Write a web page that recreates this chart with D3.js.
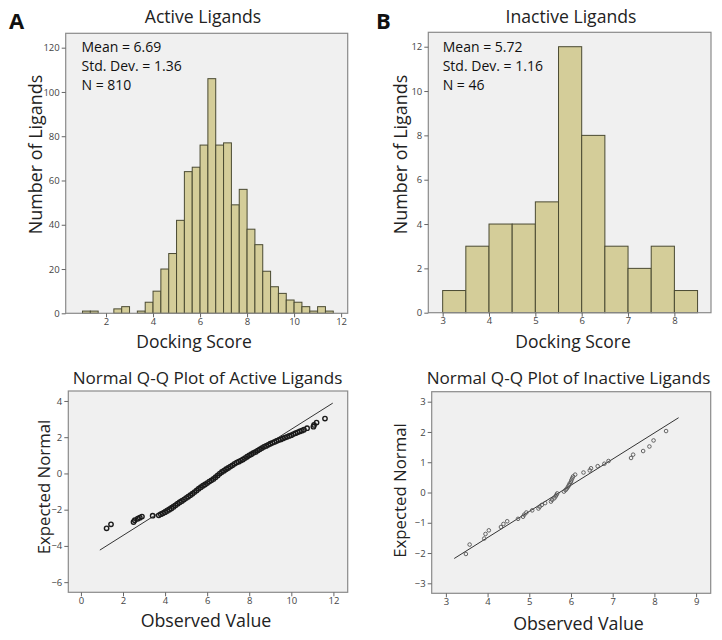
<!DOCTYPE html>
<html>
<head>
<meta charset="utf-8">
<script src="https://cdn.jsdelivr.net/npm/d3@7"></script>
<style>
  html, body { margin: 0; padding: 0; background: #ffffff; }
  svg text { font-family: "Open Sans", Lato, sans-serif; }
</style>
</head>
<body>
<svg id="chart" width="722" height="640"></svg>
<script>
// ---------------- DATA ----------------
// Histogram A: Active ligands (bin width 1/3)
const activeBinLo = [1.0, 1.333, 2.333, 2.667, 3.333, 3.667, 4.0, 4.333, 4.667, 5.0, 5.333, 5.667,
  6.0, 6.333, 6.667, 7.0, 7.333, 7.667, 8.0, 8.333, 8.667, 9.0, 9.333, 9.667, 10.0, 10.333, 10.667, 11.0, 11.333];
const activeCounts = [1, 1, 2, 3, 1, 5, 10, 20, 27, 42, 64, 66,
  76, 106, 76, 77, 49, 56, 38, 31, 19, 12, 9, 6, 5, 3, 1, 3, 1];
const activeBinWidth = 0.3333;
const activeStats = ["Mean = 6.69", "Std. Dev. = 1.36", "N = 810"];
const activeXTicks = [2, 4, 6, 8, 10, 12];
const activeYTicks = [0, 20, 40, 60, 80, 100, 120];

// Histogram B: Inactive ligands (bin width 0.5)
const inactiveBinLo = [3.0, 3.5, 4.0, 4.5, 5.0, 5.5, 6.0, 6.5, 7.0, 7.5, 8.0];
const inactiveCounts = [1, 3, 4, 4, 5, 12, 8, 3, 2, 3, 1];
const inactiveBinWidth = 0.5;
const inactiveStats = ["Mean = 5.72", "Std. Dev. = 1.16", "N = 46"];
const inactiveXTicks = [3, 4, 5, 6, 7, 8];
const inactiveYTicks = [0, 2, 4, 6, 8, 10, 12];

const qqActiveObserved = [1.22, 1.43, 2.50, 2.56, 2.70, 2.80, 2.90, 3.41,
  3.7, 3.8, 3.9, 4.0, 4.1, 4.2, 4.3, 4.4, 4.5, 4.6, 4.7, 4.8, 4.9, 5.0,
  5.1, 5.2, 5.3, 5.4, 5.5, 5.6, 5.7, 5.8, 5.9, 6.0, 6.1, 6.2, 6.3, 6.4,
  6.5, 6.6, 6.7, 6.8, 6.9, 7.0, 7.1, 7.2, 7.3, 7.4, 7.5, 7.6, 7.7, 7.8,
  7.9, 8.0, 8.1, 8.2, 8.3, 8.4, 8.5, 8.6, 8.7, 8.8, 8.9, 9.0, 9.1, 9.2,
  9.3, 9.4, 9.5, 9.6, 9.7, 9.8, 9.9, 10.0, 10.1, 10.2, 10.3, 10.4, 10.5, 10.6,
  10.75, 11.05, 11.08, 11.2, 11.6];
const qqActiveExpected = [-3.03, -2.81, -2.68, -2.58, -2.50, -2.44, -2.38, -2.33,
  -2.31, -2.25, -2.20, -2.14, -2.07, -2.00, -1.93, -1.85, -1.76, -1.67, -1.59, -1.52, -1.44, -1.36,
  -1.28, -1.20, -1.12, -1.03, -0.94, -0.84, -0.76, -0.68, -0.61, -0.53, -0.45, -0.38, -0.30, -0.21,
  -0.11, -0.01, 0.08, 0.15, 0.23, 0.30, 0.38, 0.45, 0.53, 0.60, 0.65, 0.71, 0.77, 0.85,
  0.92, 1.00, 1.06, 1.13, 1.19, 1.26, 1.33, 1.40, 1.47, 1.52, 1.58, 1.64, 1.69, 1.74,
  1.79, 1.84, 1.88, 1.93, 1.98, 2.02, 2.07, 2.11, 2.17, 2.22, 2.27, 2.32, 2.36, 2.41,
  2.50, 2.58, 2.68, 2.81, 3.03];
const qqActiveLineX = [0.9, 11.97];
const qqActiveLineY = [-4.23, 3.88];
const qqActiveXTicks = [0, 2, 4, 6, 8, 10, 12];
const qqActiveYTicks = [-6, -4, -2, 0, 2, 4];

// Q-Q plot B
const qqInactiveObserved = [3.48, 3.57, 3.92, 3.95, 4.03, 4.32, 4.38, 4.47, 4.73, 4.85, 4.88, 4.93,
  5.07, 5.22, 5.25, 5.30, 5.38, 5.52, 5.55, 5.60, 5.63, 5.65, 5.67, 5.83, 5.87, 5.90, 5.93, 5.95,
  5.97, 6.00, 6.01, 6.03, 6.05, 6.10, 6.30, 6.45, 6.48, 6.64, 6.80, 6.90, 7.44, 7.49, 7.73, 7.88,
  7.98, 8.28];
const qqInactiveExpected = [-2.03, -1.72, -1.52, -1.37, -1.25, -1.14, -1.04, -0.95, -0.87, -0.80, -0.73, -0.66,
  -0.59, -0.53, -0.47, -0.41, -0.35, -0.30, -0.24, -0.19, -0.13, -0.08, -0.03, 0.03, 0.08, 0.13, 0.19, 0.24,
  0.30, 0.35, 0.41, 0.47, 0.53, 0.59, 0.66, 0.73, 0.80, 0.87, 0.95, 1.04, 1.14, 1.25, 1.37, 1.52,
  1.72, 2.03];
const qqInactiveLineX = [3.2, 8.58];
const qqInactiveLineY = [-2.18, 2.47];
const qqInactiveXTicks = [3, 4, 5, 6, 7, 8, 9];
const qqInactiveYTicks = [-3, -2, -1, 0, 1, 2, 3];

// ---------------- DRAWING ----------------
const svg = d3.select("#chart");
const BG = "#f0f0f0", FRAME = "#8a8a8a", BAR = "#d4cd99", BAR_STROKE = "#4a4a32";

function frame(box) {
  svg.append("rect")
    .attr("x", box.l).attr("y", box.t)
    .attr("width", box.r - box.l).attr("height", box.b - box.t)
    .attr("fill", BG).attr("stroke", "none");
}
function frameStroke(box) {
  svg.append("rect")
    .attr("x", box.l).attr("y", box.t)
    .attr("width", box.r - box.l).attr("height", box.b - box.t)
    .attr("fill", "none").attr("stroke", FRAME).attr("stroke-width", 1.2);
}
function axes(box, x, y, xt, yt) {
  const ax = svg.append("g").attr("transform", `translate(0,${box.b})`)
    .call(d3.axisBottom(x).tickValues(xt).tickSize(4).tickPadding(1).tickFormat(d3.format("d")));
  const ay = svg.append("g").attr("transform", `translate(${box.l},0)`)
    .call(d3.axisLeft(y).tickValues(yt).tickSize(4).tickPadding(2).tickFormat(d3.format("d")));
  [ax, ay].forEach(g => {
    g.select(".domain").remove();
    g.selectAll(".tick line").attr("stroke", "#666");
    g.selectAll(".tick text").attr("fill", "#444").style("font-size", "9.5px")
      .style("font-family", "'Open Sans', Lato, sans-serif");
  });
}
function labels(o) {
  svg.append("text").attr("x", o.letterX).attr("y", 29).text(o.letter)
    .style("font-size", "22px").style("font-weight", "bold").attr("fill", "#111");
  svg.append("text").attr("x", o.titleX).attr("y", o.titleY).attr("text-anchor", "middle")
    .text(o.title).style("font-size", o.titleSize).attr("fill", "#222");
  svg.append("text").attr("x", o.xlabX).attr("y", o.xlabY).attr("text-anchor", "middle")
    .text(o.xlab).style("font-size", o.xlabSize).attr("fill", "#222");
  svg.append("text").attr("transform", `translate(${o.ylabX},${o.ylabY}) rotate(-90)`)
    .attr("text-anchor", "middle").text(o.ylab).style("font-size", o.ylabSize).attr("fill", "#222");
}

function histogram(cfg) {
  const box = cfg.box;
  const x = d3.scaleLinear().domain(cfg.xDomain).range([box.l, box.r]);
  const y = d3.scaleLinear().domain(cfg.yDomain).range([box.b, box.t]);
  frame(box);
  svg.append("g").selectAll("rect").data(cfg.lo).join("rect")
    .attr("x", d => x(d))
    .attr("width", d => x(d + cfg.width) - x(d))
    .attr("y", (d, i) => y(cfg.counts[i]))
    .attr("height", (d, i) => y(0) - y(cfg.counts[i]))
    .attr("fill", BAR).attr("stroke", BAR_STROKE).attr("stroke-width", 1);
  frameStroke(box);
  axes(box, x, y, cfg.xTicks, cfg.yTicks);
  svg.append("g").selectAll("text").data(cfg.stats).join("text")
    .attr("x", cfg.statX).attr("y", (d, i) => cfg.statY + i * 19.3)
    .text(d => d).style("font-size", "14px").attr("fill", "#111");
}

function qq(cfg) {
  const box = cfg.box;
  const x = d3.scaleLinear().domain(cfg.xDomain).range([box.l, box.r]);
  const y = d3.scaleLinear().domain(cfg.yDomain).range([box.b, box.t]);
  frame(box);
  svg.append("line")
    .attr("x1", x(cfg.lineX[0])).attr("y1", y(cfg.lineY[0]))
    .attr("x2", x(cfg.lineX[1])).attr("y2", y(cfg.lineY[1]))
    .attr("stroke", "#333").attr("stroke-width", 1);
  svg.append("g").selectAll("circle").data(cfg.obs).join("circle")
    .attr("cx", d => x(d)).attr("cy", (d, i) => y(cfg.exp[i]))
    .attr("r", cfg.r).attr("fill", "none").attr("stroke", cfg.pointColor).attr("stroke-width", cfg.sw);
  frameStroke(box);
  axes(box, x, y, cfg.xTicks, cfg.yTicks);
}

// Panel A histogram
histogram({
  box: {l: 65.7, r: 347.7, t: 33.3, b: 313.3},
  xDomain: [0.285, 12.28], yDomain: [0, 126.5],
  lo: activeBinLo, counts: activeCounts, width: activeBinWidth,
  xTicks: activeXTicks, yTicks: activeYTicks,
  stats: activeStats, statX: 81.5, statY: 51.5
});
labels({letter: "A", letterX: 9, title: "Active Ligands", titleX: 203, titleY: 23, titleSize: "17.6px",
  xlab: "Docking Score", xlabX: 194, xlabY: 348, xlabSize: "17.5px",
  ylab: "Number of Ligands", ylabX: 42, ylabY: 154.5, ylabSize: "17.9px"});

// Panel B histogram
histogram({
  box: {l: 428.3, r: 711, t: 32.3, b: 312.7},
  xDomain: [2.69, 8.79], yDomain: [0, 12.65],
  lo: inactiveBinLo, counts: inactiveCounts, width: inactiveBinWidth,
  xTicks: inactiveXTicks, yTicks: inactiveYTicks,
  stats: inactiveStats, statX: 442.7, statY: 51.5
});
labels({letter: "B", letterX: 376, title: "Inactive Ligands", titleX: 571, titleY: 23, titleSize: "17.6px",
  xlab: "Docking Score", xlabX: 573, xlabY: 348, xlabSize: "17.5px",
  ylab: "Number of Ligands", ylabX: 406.5, ylabY: 154.5, ylabSize: "17.9px"});

// Q-Q A
qq({
  box: {l: 68.3, r: 347.7, t: 391, b: 592.3},
  xDomain: [-0.6, 12.68], yDomain: [-6.56, 4.55],
  obs: qqActiveObserved, exp: qqActiveExpected, lineX: qqActiveLineX, lineY: qqActiveLineY,
  xTicks: qqActiveXTicks, yTicks: qqActiveYTicks, r: 2.2, sw: 1.4, pointColor: "#1a1a1a"
});
svg.append("text").attr("x", 207.5).attr("y", 384).attr("text-anchor", "middle")
  .text("Normal Q-Q Plot of Active Ligands").style("font-size", "17.1px").attr("fill", "#222");
svg.append("text").attr("x", 206).attr("y", 627).attr("text-anchor", "middle")
  .text("Observed Value").style("font-size", "17.8px").attr("fill", "#222");
svg.append("text").attr("transform", "translate(50,487) rotate(-90)").attr("text-anchor", "middle")
  .text("Expected Normal").style("font-size", "16.8px").attr("fill", "#222");

// Q-Q B
qq({
  box: {l: 431.7, r: 710.7, t: 391.7, b: 593.3},
  xDomain: [2.66, 9.35], yDomain: [-3.33, 3.33],
  obs: qqInactiveObserved, exp: qqInactiveExpected, lineX: qqInactiveLineX, lineY: qqInactiveLineY,
  xTicks: qqInactiveXTicks, yTicks: qqInactiveYTicks, r: 1.8, sw: 0.9, pointColor: "#555"
});
svg.append("text").attr("x", 568.5).attr("y", 384).attr("text-anchor", "middle")
  .text("Normal Q-Q Plot of Inactive Ligands").style("font-size", "17.1px").attr("fill", "#222");
svg.append("text").attr("x", 578.5).attr("y", 630).attr("text-anchor", "middle")
  .text("Observed Value").style("font-size", "17.8px").attr("fill", "#222");
svg.append("text").attr("transform", "translate(406,490.5) rotate(-90)").attr("text-anchor", "middle")
  .text("Expected Normal").style("font-size", "16.8px").attr("fill", "#222");
</script>
</body>
</html>
